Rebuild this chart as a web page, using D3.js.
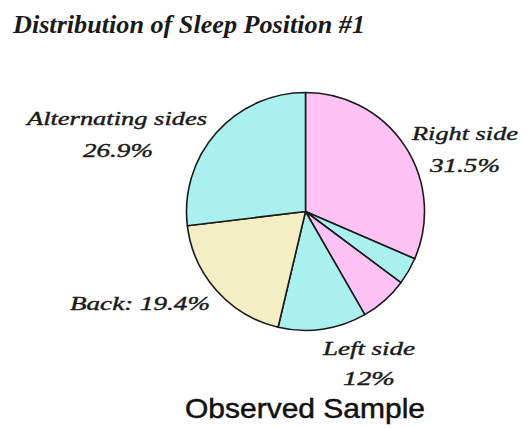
<!DOCTYPE html>
<html>
<head>
<meta charset="utf-8">
<script src="https://cdn.jsdelivr.net/npm/d3@7"></script>
<style>
  html, body { margin: 0; padding: 0; background: #fff; }
  svg { display: block; }
  .serif { font-family: "Liberation Serif", "Times New Roman", Tinos, "Nimbus Roman", Times, serif; }
  .sans  { font-family: "Liberation Sans", Arial, Helvetica, sans-serif; }
</style>
</head>
<body>
<svg id="chart" width="527" height="428"></svg>
<script>
// Sleep position shares (%), clockwise from 12 o'clock
const positions = ["Right side", "Right-left (a)", "Right-left (b)", "Left side", "Back", "Alternating sides"];
const shares    = [31.5, 3.7, 6.5, 12, 19.4, 26.9];
const fills     = ["#ffc2f5", "#aaf0ef", "#ffc2f5", "#aaf0ef", "#f3eec4", "#aaf0ef"];

// Slice labels: text lines, anchor position, line width
const labelLines = [
  { lines: ["Right side", "31.5%"], x: [465, 465], y: [140, 172], w: [106, 70] },
  { lines: ["Left side", "12%"],    x: [369, 369], y: [355, 385], w: [92, 52] },
  { lines: ["Back: 19.4%"],         x: [140],      y: [310],      w: [140] },
  { lines: ["Alternating sides", "26.9%"], x: [117, 118], y: [125, 157], w: [180, 70] }
];

const svg = d3.select("#chart");
const cx = 305.5, cy = 211.5, r = 119;

const pie = d3.pie().sort(null).value(d => d);
const arc = d3.arc().innerRadius(0).outerRadius(r);

const g = svg.append("g").attr("transform", `translate(${cx},${cy})`);
g.selectAll("path")
  .data(pie(shares))
  .join("path")
  .attr("d", arc)
  .attr("fill", (d, i) => fills[i])
  .attr("stroke", "#1a1a1a")
  .attr("stroke-width", 1.6)
  .attr("stroke-linejoin", "round");

// Title
svg.append("text")
  .attr("class", "serif")
  .attr("x", 13).attr("y", 33)
  .attr("font-style", "italic").attr("font-weight", "bold")
  .attr("font-size", 26)
  .attr("fill", "#1a1a1a")
  .attr("textLength", 352).attr("lengthAdjust", "spacingAndGlyphs")
  .text("Distribution of Sleep Position #1");

// Slice labels
labelLines.forEach(l => {
  l.lines.forEach((t, j) => {
    svg.append("text")
      .attr("class", "serif")
      .attr("x", l.x[j]).attr("y", l.y[j])
      .attr("text-anchor", "middle")
      .attr("font-style", "italic")
      .attr("font-size", 19)
      .attr("fill", "#1a1a1a")
      .attr("stroke", "#1a1a1a").attr("stroke-width", 0.4)
      .attr("textLength", l.w[j]).attr("lengthAdjust", "spacingAndGlyphs")
      .text(t);
  });
});

// Caption
svg.append("text")
  .attr("class", "sans")
  .attr("x", 305).attr("y", 418)
  .attr("text-anchor", "middle")
  .attr("font-size", 28)
  .attr("fill", "#111")
  .attr("stroke", "#111").attr("stroke-width", 0.5)
  .attr("textLength", 240).attr("lengthAdjust", "spacingAndGlyphs")
  .text("Observed Sample");
</script>
</body>
</html>
